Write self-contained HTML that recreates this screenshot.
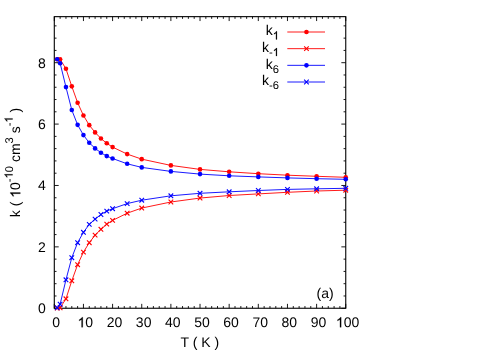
<!DOCTYPE html>
<html><head><meta charset="utf-8"><title>plot</title>
<style>
html,body{margin:0;padding:0;background:#fff;}
body{width:500px;height:350px;overflow:hidden;}
svg{display:block;will-change:transform;}
text{font-family:"Liberation Sans",sans-serif;font-size:14px;fill:#000;text-rendering:geometricPrecision;}
</style></head><body>
<svg width="500" height="350" viewBox="0 0 500 350">
<rect width="500" height="350" fill="#fff"/>
<path d="M54.30 308.25v-4.4M54.30 16.65v4.4M60.13 308.25v-2.2M60.13 16.65v2.2M65.96 308.25v-2.2M65.96 16.65v2.2M71.79 308.25v-2.2M71.79 16.65v2.2M77.62 308.25v-2.2M77.62 16.65v2.2M83.44 308.25v-4.4M83.44 16.65v4.4M89.27 308.25v-2.2M89.27 16.65v2.2M95.10 308.25v-2.2M95.10 16.65v2.2M100.93 308.25v-2.2M100.93 16.65v2.2M106.76 308.25v-2.2M106.76 16.65v2.2M112.59 308.25v-4.4M112.59 16.65v4.4M118.42 308.25v-2.2M118.42 16.65v2.2M124.25 308.25v-2.2M124.25 16.65v2.2M130.08 308.25v-2.2M130.08 16.65v2.2M135.91 308.25v-2.2M135.91 16.65v2.2M141.74 308.25v-4.4M141.74 16.65v4.4M147.56 308.25v-2.2M147.56 16.65v2.2M153.39 308.25v-2.2M153.39 16.65v2.2M159.22 308.25v-2.2M159.22 16.65v2.2M165.05 308.25v-2.2M165.05 16.65v2.2M170.88 308.25v-4.4M170.88 16.65v4.4M176.71 308.25v-2.2M176.71 16.65v2.2M182.54 308.25v-2.2M182.54 16.65v2.2M188.37 308.25v-2.2M188.37 16.65v2.2M194.20 308.25v-2.2M194.20 16.65v2.2M200.02 308.25v-4.4M200.02 16.65v4.4M205.85 308.25v-2.2M205.85 16.65v2.2M211.68 308.25v-2.2M211.68 16.65v2.2M217.51 308.25v-2.2M217.51 16.65v2.2M223.34 308.25v-2.2M223.34 16.65v2.2M229.17 308.25v-4.4M229.17 16.65v4.4M235.00 308.25v-2.2M235.00 16.65v2.2M240.83 308.25v-2.2M240.83 16.65v2.2M246.66 308.25v-2.2M246.66 16.65v2.2M252.49 308.25v-2.2M252.49 16.65v2.2M258.31 308.25v-4.4M258.31 16.65v4.4M264.14 308.25v-2.2M264.14 16.65v2.2M269.97 308.25v-2.2M269.97 16.65v2.2M275.80 308.25v-2.2M275.80 16.65v2.2M281.63 308.25v-2.2M281.63 16.65v2.2M287.46 308.25v-4.4M287.46 16.65v4.4M293.29 308.25v-2.2M293.29 16.65v2.2M299.12 308.25v-2.2M299.12 16.65v2.2M304.95 308.25v-2.2M304.95 16.65v2.2M310.78 308.25v-2.2M310.78 16.65v2.2M316.61 308.25v-4.4M316.61 16.65v4.4M322.43 308.25v-2.2M322.43 16.65v2.2M328.26 308.25v-2.2M328.26 16.65v2.2M334.09 308.25v-2.2M334.09 16.65v2.2M339.92 308.25v-2.2M339.92 16.65v2.2M345.75 308.25v-4.4M345.75 16.65v4.4M54.3 308.25h4.4M345.75 308.25h-4.4M54.3 295.97h2.2M345.75 295.97h-2.2M54.3 283.69h2.2M345.75 283.69h-2.2M54.3 271.42h2.2M345.75 271.42h-2.2M54.3 259.14h2.2M345.75 259.14h-2.2M54.3 246.86h4.4M345.75 246.86h-4.4M54.3 234.58h2.2M345.75 234.58h-2.2M54.3 222.30h2.2M345.75 222.30h-2.2M54.3 210.03h2.2M345.75 210.03h-2.2M54.3 197.75h2.2M345.75 197.75h-2.2M54.3 185.47h4.4M345.75 185.47h-4.4M54.3 173.19h2.2M345.75 173.19h-2.2M54.3 160.92h2.2M345.75 160.92h-2.2M54.3 148.64h2.2M345.75 148.64h-2.2M54.3 136.36h2.2M345.75 136.36h-2.2M54.3 124.08h4.4M345.75 124.08h-4.4M54.3 111.80h2.2M345.75 111.80h-2.2M54.3 99.53h2.2M345.75 99.53h-2.2M54.3 87.25h2.2M345.75 87.25h-2.2M54.3 74.97h2.2M345.75 74.97h-2.2M54.3 62.69h4.4M345.75 62.69h-4.4M54.3 50.41h2.2M345.75 50.41h-2.2M54.3 38.14h2.2M345.75 38.14h-2.2M54.3 25.86h2.2M345.75 25.86h-2.2" fill="none" stroke="#000" stroke-width="0.9"/>
<rect x="54.3" y="16.65" width="291.45" height="291.6" fill="none" stroke="#000" stroke-width="1.1"/>
<polyline points="57.21,59.30 60.13,59.30 65.96,68.80 71.79,86.35 77.62,102.70 83.44,115.50 89.27,125.15 95.10,132.40 100.93,138.50 106.76,143.30 112.59,147.10 127.16,154.10 141.74,159.15 170.88,165.40 200.02,169.40 229.17,171.80 258.31,173.70 287.46,175.20 316.61,176.30 345.75,177.30" fill="none" stroke="#ff0000" stroke-width="0.9" stroke-linejoin="round"/>
<circle cx="57.21" cy="59.30" r="2.3" fill="#ff0000"/>
<circle cx="60.13" cy="59.30" r="2.3" fill="#ff0000"/>
<circle cx="65.96" cy="68.80" r="2.3" fill="#ff0000"/>
<circle cx="71.79" cy="86.35" r="2.3" fill="#ff0000"/>
<circle cx="77.62" cy="102.70" r="2.3" fill="#ff0000"/>
<circle cx="83.44" cy="115.50" r="2.3" fill="#ff0000"/>
<circle cx="89.27" cy="125.15" r="2.3" fill="#ff0000"/>
<circle cx="95.10" cy="132.40" r="2.3" fill="#ff0000"/>
<circle cx="100.93" cy="138.50" r="2.3" fill="#ff0000"/>
<circle cx="106.76" cy="143.30" r="2.3" fill="#ff0000"/>
<circle cx="112.59" cy="147.10" r="2.3" fill="#ff0000"/>
<circle cx="127.16" cy="154.10" r="2.3" fill="#ff0000"/>
<circle cx="141.74" cy="159.15" r="2.3" fill="#ff0000"/>
<circle cx="170.88" cy="165.40" r="2.3" fill="#ff0000"/>
<circle cx="200.02" cy="169.40" r="2.3" fill="#ff0000"/>
<circle cx="229.17" cy="171.80" r="2.3" fill="#ff0000"/>
<circle cx="258.31" cy="173.70" r="2.3" fill="#ff0000"/>
<circle cx="287.46" cy="175.20" r="2.3" fill="#ff0000"/>
<circle cx="316.61" cy="176.30" r="2.3" fill="#ff0000"/>
<circle cx="345.75" cy="177.30" r="2.3" fill="#ff0000"/>
<polyline points="57.21,308.00 60.13,307.80 65.96,298.80 71.79,280.80 77.62,264.70 83.44,252.10 89.27,242.70 95.10,235.15 100.93,229.30 106.76,224.10 112.59,220.40 127.16,213.20 141.74,208.05 170.88,202.00 200.02,198.05 229.17,195.50 258.31,193.90 287.46,192.30 316.61,191.00 345.75,190.20" fill="none" stroke="#ff0000" stroke-width="0.9" stroke-linejoin="round"/>
<path d="M54.91 305.70L59.51 310.30M54.91 310.30L59.51 305.70M57.83 305.50L62.43 310.10M57.83 310.10L62.43 305.50M63.66 296.50L68.26 301.10M63.66 301.10L68.26 296.50M69.49 278.50L74.09 283.10M69.49 283.10L74.09 278.50M75.32 262.40L79.92 267.00M75.32 267.00L79.92 262.40M81.14 249.80L85.74 254.40M81.14 254.40L85.74 249.80M86.97 240.40L91.57 245.00M86.97 245.00L91.57 240.40M92.80 232.85L97.40 237.45M92.80 237.45L97.40 232.85M98.63 227.00L103.23 231.60M98.63 231.60L103.23 227.00M104.46 221.80L109.06 226.40M104.46 226.40L109.06 221.80M110.29 218.10L114.89 222.70M110.29 222.70L114.89 218.10M124.86 210.90L129.46 215.50M124.86 215.50L129.46 210.90M139.44 205.75L144.04 210.35M139.44 210.35L144.04 205.75M168.58 199.70L173.18 204.30M168.58 204.30L173.18 199.70M197.72 195.75L202.32 200.35M197.72 200.35L202.32 195.75M226.87 193.20L231.47 197.80M226.87 197.80L231.47 193.20M256.01 191.60L260.62 196.20M256.01 196.20L260.62 191.60M285.16 190.00L289.76 194.60M285.16 194.60L289.76 190.00M314.31 188.70L318.91 193.30M314.31 193.30L318.91 188.70M343.45 187.90L348.05 192.50M343.45 192.50L348.05 187.90" fill="none" stroke="#ff0000" stroke-width="1.1"/>
<polyline points="57.21,59.20 60.13,63.20 65.96,87.10 71.79,110.00 77.62,124.85 83.44,135.10 89.27,142.80 95.10,148.40 100.93,152.70 106.76,156.10 112.59,158.50 127.16,163.80 141.74,167.40 170.88,171.40 200.02,174.10 229.17,175.80 258.31,176.90 287.46,177.90 316.61,178.70 345.75,179.30" fill="none" stroke="#0000ff" stroke-width="0.9" stroke-linejoin="round"/>
<circle cx="57.21" cy="59.20" r="2.3" fill="#0000ff"/>
<circle cx="60.13" cy="63.20" r="2.3" fill="#0000ff"/>
<circle cx="65.96" cy="87.10" r="2.3" fill="#0000ff"/>
<circle cx="71.79" cy="110.00" r="2.3" fill="#0000ff"/>
<circle cx="77.62" cy="124.85" r="2.3" fill="#0000ff"/>
<circle cx="83.44" cy="135.10" r="2.3" fill="#0000ff"/>
<circle cx="89.27" cy="142.80" r="2.3" fill="#0000ff"/>
<circle cx="95.10" cy="148.40" r="2.3" fill="#0000ff"/>
<circle cx="100.93" cy="152.70" r="2.3" fill="#0000ff"/>
<circle cx="106.76" cy="156.10" r="2.3" fill="#0000ff"/>
<circle cx="112.59" cy="158.50" r="2.3" fill="#0000ff"/>
<circle cx="127.16" cy="163.80" r="2.3" fill="#0000ff"/>
<circle cx="141.74" cy="167.40" r="2.3" fill="#0000ff"/>
<circle cx="170.88" cy="171.40" r="2.3" fill="#0000ff"/>
<circle cx="200.02" cy="174.10" r="2.3" fill="#0000ff"/>
<circle cx="229.17" cy="175.80" r="2.3" fill="#0000ff"/>
<circle cx="258.31" cy="176.90" r="2.3" fill="#0000ff"/>
<circle cx="287.46" cy="177.90" r="2.3" fill="#0000ff"/>
<circle cx="316.61" cy="178.70" r="2.3" fill="#0000ff"/>
<circle cx="345.75" cy="179.30" r="2.3" fill="#0000ff"/>
<polyline points="57.21,307.80 60.13,304.20 65.96,279.80 71.79,257.70 77.62,242.70 83.44,232.30 89.27,224.40 95.10,219.10 100.93,214.50 106.76,211.10 112.59,208.70 127.16,203.60 141.74,200.20 170.88,195.80 200.02,193.30 229.17,191.80 258.31,190.50 287.46,189.40 316.61,188.80 345.75,188.30" fill="none" stroke="#0000ff" stroke-width="0.9" stroke-linejoin="round"/>
<path d="M54.91 305.50L59.51 310.10M54.91 310.10L59.51 305.50M57.83 301.90L62.43 306.50M57.83 306.50L62.43 301.90M63.66 277.50L68.26 282.10M63.66 282.10L68.26 277.50M69.49 255.40L74.09 260.00M69.49 260.00L74.09 255.40M75.32 240.40L79.92 245.00M75.32 245.00L79.92 240.40M81.14 230.00L85.74 234.60M81.14 234.60L85.74 230.00M86.97 222.10L91.57 226.70M86.97 226.70L91.57 222.10M92.80 216.80L97.40 221.40M92.80 221.40L97.40 216.80M98.63 212.20L103.23 216.80M98.63 216.80L103.23 212.20M104.46 208.80L109.06 213.40M104.46 213.40L109.06 208.80M110.29 206.40L114.89 211.00M110.29 211.00L114.89 206.40M124.86 201.30L129.46 205.90M124.86 205.90L129.46 201.30M139.44 197.90L144.04 202.50M139.44 202.50L144.04 197.90M168.58 193.50L173.18 198.10M168.58 198.10L173.18 193.50M197.72 191.00L202.32 195.60M197.72 195.60L202.32 191.00M226.87 189.50L231.47 194.10M226.87 194.10L231.47 189.50M256.01 188.20L260.62 192.80M256.01 192.80L260.62 188.20M285.16 187.10L289.76 191.70M285.16 191.70L289.76 187.10M314.31 186.50L318.91 191.10M314.31 191.10L318.91 186.50M343.45 186.00L348.05 190.60M343.45 190.60L348.05 186.00" fill="none" stroke="#0000ff" stroke-width="1.1"/>
<path d="M287.3 32.0H325.0" stroke="#ff0000" stroke-width="0.9"/>
<circle cx="306.45" cy="32.0" r="2.3" fill="#ff0000"/>
<text x="265.771" y="35.200" style="font-size:14px;white-space:pre">k</text>
<path transform="translate(272.771,39.400) scale(0.005469,-0.005469)" d="M763 0H583V1147Q518 1085 412.5 1023T223 930V1104Q374 1175 487 1276T647 1472H763Z" fill="#000" stroke="#000" stroke-width="36.6"/>
<path d="M287.3 48.67H325.0" stroke="#ff0000" stroke-width="0.9"/>
<path d="M304.15 46.370000000000005L308.75 50.97M304.15 50.97L308.75 46.370000000000005" stroke="#ff0000" stroke-width="1.1" fill="none"/>
<text x="262.041" y="51.870" style="font-size:14px;white-space:pre">k</text>
<text x="269.041" y="56.070" style="font-size:11.2px;white-space:pre">-</text>
<path transform="translate(272.771,56.070) scale(0.005469,-0.005469)" d="M763 0H583V1147Q518 1085 412.5 1023T223 930V1104Q374 1175 487 1276T647 1472H763Z" fill="#000" stroke="#000" stroke-width="36.6"/>
<path d="M287.3 65.33H325.0" stroke="#0000ff" stroke-width="0.9"/>
<circle cx="306.45" cy="65.33" r="2.3" fill="#0000ff"/>
<text x="265.771" y="68.530" style="font-size:14px;white-space:pre">k</text>
<text x="272.771" y="72.730" style="font-size:11.2px;white-space:pre">6</text>
<path d="M287.3 82.0H325.0" stroke="#0000ff" stroke-width="0.9"/>
<path d="M304.15 79.7L308.75 84.3M304.15 84.3L308.75 79.7" stroke="#0000ff" stroke-width="1.1" fill="none"/>
<text x="262.041" y="85.200" style="font-size:14px;white-space:pre">k</text>
<text x="269.041" y="89.400" style="font-size:11.2px;white-space:pre">-6</text>
<text x="52.307" y="327.300" style="font-size:14px;white-space:pre">0</text>
<path transform="translate(77.559,327.300) scale(0.006836,-0.006836)" d="M763 0H583V1147Q518 1085 412.5 1023T223 930V1104Q374 1175 487 1276T647 1472H763Z" fill="#000" stroke="#000" stroke-width="29.3"/>
<text x="85.345" y="327.300" style="font-size:14px;white-space:pre">0</text>
<text x="106.704" y="327.300" style="font-size:14px;white-space:pre">20</text>
<text x="135.849" y="327.300" style="font-size:14px;white-space:pre">30</text>
<text x="164.994" y="327.300" style="font-size:14px;white-space:pre">40</text>
<text x="194.139" y="327.300" style="font-size:14px;white-space:pre">50</text>
<text x="223.284" y="327.300" style="font-size:14px;white-space:pre">60</text>
<text x="252.429" y="327.300" style="font-size:14px;white-space:pre">70</text>
<text x="281.574" y="327.300" style="font-size:14px;white-space:pre">80</text>
<text x="310.719" y="327.300" style="font-size:14px;white-space:pre">90</text>
<path transform="translate(335.971,327.300) scale(0.006836,-0.006836)" d="M763 0H583V1147Q518 1085 412.5 1023T223 930V1104Q374 1175 487 1276T647 1472H763Z" fill="#000" stroke="#000" stroke-width="29.3"/>
<text x="343.757" y="327.300" style="font-size:14px;white-space:pre">00</text>
<text x="45.7" y="313.25" text-anchor="end">0</text>
<text x="45.7" y="251.86" text-anchor="end">2</text>
<text x="45.7" y="190.47" text-anchor="end">4</text>
<text x="45.7" y="129.08" text-anchor="end">6</text>
<text x="45.7" y="67.69" text-anchor="end">8</text>
<text x="316.5" y="297.6">(a)</text>
<text x="199.8" y="347.3" text-anchor="middle">T ( K )</text>
<g transform="translate(20.3,162.5) rotate(-90)">
<text x="-54.691" y="0.000" style="font-size:14px;white-space:pre">k ( </text>
<path transform="translate(-35.250,0.000) scale(0.006836,-0.006836)" d="M763 0H583V1147Q518 1085 412.5 1023T223 930V1104Q374 1175 487 1276T647 1472H763Z" fill="#000" stroke="#000" stroke-width="29.3"/>
<text x="-27.463" y="0.000" style="font-size:14px;white-space:pre">0</text>
<text x="-19.677" y="-7.700" style="font-size:11.2px;white-space:pre">-</text>
<path transform="translate(-15.948,-7.700) scale(0.005469,-0.005469)" d="M763 0H583V1147Q518 1085 412.5 1023T223 930V1104Q374 1175 487 1276T647 1472H763Z" fill="#000" stroke="#000" stroke-width="36.6"/>
<text x="-9.719" y="-7.700" style="font-size:11.2px;white-space:pre">0</text>
<text x="0.400" y="0.000" style="font-size:14px;white-space:pre">cm</text>
<text x="19.062" y="-7.700" style="font-size:11.2px;white-space:pre">3</text>
<text x="29.181" y="0.000" style="font-size:14px;white-space:pre">s</text>
<text x="36.181" y="-7.700" style="font-size:11.2px;white-space:pre">-</text>
<path transform="translate(39.910,-7.700) scale(0.005469,-0.005469)" d="M763 0H583V1147Q518 1085 412.5 1023T223 930V1104Q374 1175 487 1276T647 1472H763Z" fill="#000" stroke="#000" stroke-width="36.6"/>
<text x="50.029" y="0.000" style="font-size:14px;white-space:pre">)</text>
</g>
</svg>
</body></html>
